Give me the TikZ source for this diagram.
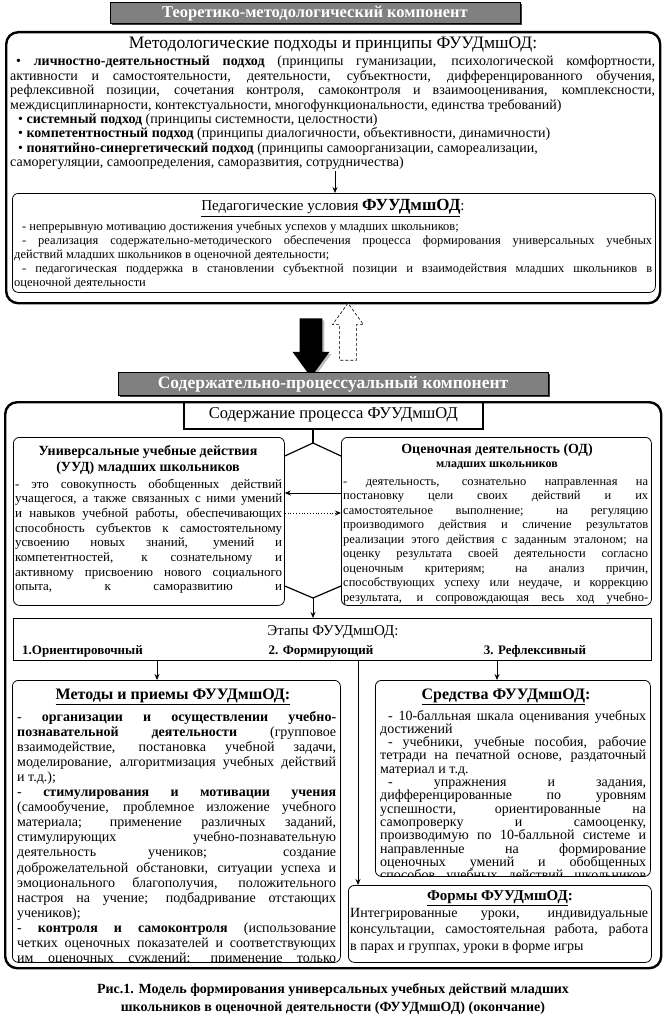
\documentclass[tikz,border=0pt]{standalone}
\usepackage{fontspec}
\setmainfont{Liberation Serif}
\usetikzlibrary{positioning,arrows.meta,shapes.arrows,shadows}
\definecolor{barfill}{RGB}{128,128,128}
\tolerance=10000
\hbadness=10000
\hfuzz=2pt

\begin{document}
\begin{tikzpicture}[x=1pt, y=-1pt,
   bar/.style={draw, fill=barfill, line width=1pt, text=white, inner sep=0pt,
     drop shadow={shadow xshift=1.5pt, shadow yshift=-1.5pt, fill=black!75, opacity=1}},
   bigbox/.style={draw, line width=2.4pt, rounded corners=12pt, inner sep=0pt},
   box/.style={draw, line width=0.8pt, rounded corners=6pt, inner sep=0pt},
   sqbox/.style={draw, line width=1.3pt, inner sep=0pt},
   txt/.style={inner sep=0pt, anchor=base west, align=justify},
   hd/.style={inner sep=0pt, align=center},
   arr/.style={-{Stealth[length=6pt,width=5pt]}, line width=0.8pt},
   link/.style={line width=1.2pt}]
  \useasboundingbox (0,0) rectangle (663,1022);

  % theoretical-methodological component
  \node[bar, minimum width=410pt, minimum height=21pt, font=\fontsize{16.5}{18}\selectfont\bfseries]
    (teor) at (315,13.5) {Теоретико-методологический компонент};
  \node[bigbox, anchor=north west, minimum width=654pt, minimum height=271pt] (top) at (5,31) {};
  \node[hd, font=\fontsize{17.5}{20}\selectfont] (methhd) at (333,45)
    {Методологические подходы и принципы ФУУДмшОД:};
  \node[txt, text width=645pt, font=\fontsize{14}{14.4}\selectfont] (methtxt) at (10,66)
    {\hspace*{6pt}\textbullet\ \textbf{личностно-деятельностный подход} (принципы гуманизации, психологической комфортности,\linebreak
     активности и самостоятельности, деятельности, субъектности, дифференцированного обучения,\linebreak
     рефлексивной позиции, сочетания контроля, самоконтроля и взаимооценивания, комплексности,\linebreak
     междисциплинарности, контекстуальности, многофункциональности, единства требований)\\
     \hspace*{8pt}\textbullet\ \textbf{системный подход} (принципы системности, целостности)\\
     \hspace*{8pt}\textbullet\ \textbf{компетентностный подход} (принципы диалогичности, объективности, динамичности)\\
     \hspace*{8pt}\textbullet\ \textbf{понятийно-синергетический подход} (принципы самоорганизации, самореализации,\\
     саморегуляции, самоопределения, саморазвития, сотрудничества)};

  \node[box, anchor=north west, minimum width=643pt, minimum height=99pt] (ped) at (12,193) {};
  \node[hd, font=\fontsize{15}{17}\selectfont] (pedhd) at (333,208)
    {\underline{Педагогические условия {\fontsize{17}{19}\selectfont\bfseries ФУУДмшОД}}:};
  \node[txt, text width=638pt, font=\fontsize{12.5}{14.2}\selectfont] (pedtxt) at (14,230)
    {\hspace*{8pt}- непрерывную мотивацию достижения учебных успехов у младших школьников;\\
     \hspace*{8pt}- реализация содержательно-методического обеспечения процесса формирования универсальных учебных\linebreak
     действий младших школьников в оценочной деятельности;\\
     \hspace*{8pt}- педагогическая поддержка в становлении субъектной позиции и взаимодействия младших школьников в\linebreak
     оценочной деятельности};
  \coordinate (a1) at (335,171);
  \draw[arr] (a1) -- (a1 |- ped.north);

  % transition arrows
  \node[single arrow, fill=black, rotate=-90, minimum height=59pt, minimum width=37pt,
    inner xsep=0pt, inner ysep=11pt, single arrow tip angle=72,
    drop shadow={shadow xshift=2pt, shadow yshift=-2pt, fill=black!25, opacity=1}] (down) at (311,340) {};
  \node[single arrow, draw, dash pattern=on 3pt off 2pt, fill=white, line width=0.6pt, rotate=90,
    minimum height=57pt, minimum width=31pt, inner xsep=0pt, inner ysep=8pt,
    single arrow tip angle=72] (up) at (348,337.5) {};

  % content-process component
  \node[bar, minimum width=430pt, minimum height=23pt, font=\fontsize{17.5}{20}\selectfont\bfseries]
    (soderzh) at (333,384) {Содержательно-процессуальный компонент};
  \node[bigbox, anchor=north west, minimum width=656pt, minimum height=566pt] (bottom) at (4,401) {};
  \node[sqbox, line width=1.5pt, anchor=north west, minimum width=299pt, minimum height=27pt,
    font=\fontsize{16.5}{18}\selectfont] (proc) at (183,401) {Содержание процесса ФУУДмшОД};

  \node[box, anchor=north west, minimum width=271pt, minimum height=168pt] (uud) at (13,437) {};
  \node[hd, font=\fontsize{14}{16}\selectfont\bfseries] (uudhd) at (148,460)
    {Универсальные учебные действия\\(УУД) младших школьников};
  \begin{scope}
    \clip[rounded corners=6pt] (uud.north west) rectangle (uud.south east);
    \node[txt, text width=267pt, font=\fontsize{13}{14.7}\selectfont] (uudtxt) at (15,488)
      {- это совокупность обобщенных действий\linebreak
       учащегося, а также связанных с ними умений\linebreak
       и навыков учебной работы, обеспечивающих\linebreak
       способность субъектов к самостоятельному\linebreak
       усвоению новых знаний, умений и\linebreak
       компетентностей, к сознательному и\linebreak
       активному присвоению нового социального\linebreak
       опыта, к саморазвитию и\linebreak};
  \end{scope}

  \node[box, anchor=north west, minimum width=310pt, minimum height=168pt] (od) at (341,437) {};
  \node[hd, font=\fontsize{14}{14}\selectfont\bfseries] (odhd) at (497,457)
    {Оценочная деятельность (ОД)\\{\fontsize{12}{14}\selectfont младших школьников}};
  \begin{scope}
    \clip[rounded corners=6pt] (od.north west) rectangle (od.south east);
    \node[txt, text width=305pt, font=\fontsize{12.5}{14.5}\selectfont] (odtxt) at (343,485)
      {- деятельность, сознательно направленная на\linebreak
       постановку цели своих действий и их\linebreak
       самостоятельное выполнение; на регуляцию\linebreak
       производимого действия и сличение результатов\linebreak
       реализации этого действия с заданным эталоном; на\linebreak
       оценку результата своей деятельности согласно\linebreak
       оценочным критериям; на анализ причин,\linebreak
       способствующих успеху или неудаче, и коррекцию\linebreak
       результата, и сопровождающая весь ход учебно-\linebreak};
  \end{scope}

  \coordinate (split) at (313,443);
  \draw[link] (split |- proc.south) -- (split);
  \draw[link] (uud.east |- 0,456) -- (split) -- (od.west |- 0,456);
  \draw[arr] (od.west |- 0,493) -- (uud.east |- 0,493);
  \draw[arr, dotted, line width=1pt] (uud.east |- 0,513) -- (od.west |- 0,513);
  \coordinate (merge) at (313,598);

  \node[sqbox, anchor=north west, minimum width=638pt, minimum height=42pt] (etapy) at (13,618) {};
  \draw[link] (uud.east |- 0,586) -- (merge) -- (od.west |- 0,586);
  \draw[arr] (merge) -- (merge |- etapy.north);
  \node[hd, font=\fontsize{15}{17}\selectfont] (etapyhd) at (333,632) {Этапы ФУУДмшОД:};
  \node[inner sep=0pt, anchor=base west, font=\fontsize{13}{15}\selectfont\bfseries] (st1) at (22,654) {1.Ориентировочный};
  \node[inner sep=0pt, anchor=base, font=\fontsize{13}{15}\selectfont\bfseries] (st2) at (321,654) {2. Формирующий};
  \node[inner sep=0pt, anchor=base, font=\fontsize{13}{15}\selectfont\bfseries] (st3) at (535,654) {3. Рефлексивный};

  % methods
  \node[box, anchor=north west, minimum width=328pt, minimum height=282pt] (metody) at (12,680) {};
  \node[hd, font=\fontsize{16}{18}\selectfont\bfseries] (metodyhd) at (173,697) {\underline{Методы и приемы ФУУДмшОД:}};
  \begin{scope}
    \clip[rounded corners=6pt] (metody.north west) rectangle (metody.south east);
    \node[txt, text width=319pt, font=\fontsize{14}{15.1}\selectfont] (metodytxt) at (17,721)
      {- \textbf{организации и осуществлении учебно-}\linebreak
       \textbf{познавательной деятельности} (групповое\linebreak
       взаимодействие, постановка учебной задачи,\linebreak
       моделирование, алгоритмизация учебных действий\linebreak
       и т.д.);\\
       - \textbf{стимулирования и мотивации учения}\linebreak
       (самообучение, проблемное изложение учебного\linebreak
       материала; применение различных заданий,\linebreak
       стимулирующих учебно-познавательную\linebreak
       деятельность учеников; создание\linebreak
       доброжелательной обстановки, ситуации успеха и\linebreak
       эмоционального благополучия, положительного\linebreak
       настроя на учение; подбадривание отстающих\linebreak
       учеников);\\
       - \textbf{контроля и самоконтроля} (использование\linebreak
       четких оценочных показателей и соответствующих\linebreak
       им оценочных суждений; применение только\linebreak};
  \end{scope}

  % means
  \node[box, anchor=north west, minimum width=275pt, minimum height=196pt] (sredstva) at (375,680) {};
  \node[hd, font=\fontsize{16}{18}\selectfont\bfseries] (sredstvahd) at (506,697) {\underline{Средства ФУУДмшОД}:};
  \begin{scope}
    \clip[rounded corners=6pt] (sredstva.north west) rectangle (sredstva.south east);
    \node[txt, text width=266pt, font=\fontsize{14}{13.3}\selectfont] (sredstvatxt) at (380,720)
      {\hspace*{8pt}- 10-балльная шкала оценивания учебных\linebreak
       достижений\\
       \hspace*{8pt}- учебники, учебные пособия, рабочие\linebreak
       тетради на печатной основе, раздаточный\linebreak
       материал и т.д.\\
       \hspace*{8pt}- упражнения и задания,\linebreak
       дифференцированные по уровням\linebreak
       успешности, ориентированные на\linebreak
       самопроверку и самооценку,\linebreak
       производимую по 10-балльной системе и\linebreak
       направленные на формирование\linebreak
       оценочных умений и обобщенных\linebreak
       способов учебных действий школьников\linebreak};
  \end{scope}

  % forms
  \node[box, anchor=north west, minimum width=303pt, minimum height=77pt] (formy) at (348,885) {};
  \node[hd, font=\fontsize{15}{17}\selectfont\bfseries] (formyhd) at (500,898) {\underline{Формы ФУУДмшОД}:};
  \node[txt, text width=298pt, font=\fontsize{14}{16.5}\selectfont] (formytxt) at (350,917)
    {Интегрированные уроки, индивидуальные\linebreak
     консультации, самостоятельная работа, работа\linebreak
     в парах и группах, уроки в форме игры};

  \draw[arr] (etapy.south -| 157,0) -- (metody.north -| 157,0);
  \draw[arr] (etapy.south -| 497,0) -- (sredstva.north -| 497,0);
  \draw[arr] (etapy.south -| 358,0) -- (formy.north -| 358,0);

  % caption
  \node[hd, font=\fontsize{14}{18}\selectfont\bfseries] (caption) at (333,999)
    {Рис.1. Модель формирования универсальных учебных действий младших\\
     школьников в оценочной деятельности (ФУУДмшОД) (окончание)};
\end{tikzpicture}
\end{document}
